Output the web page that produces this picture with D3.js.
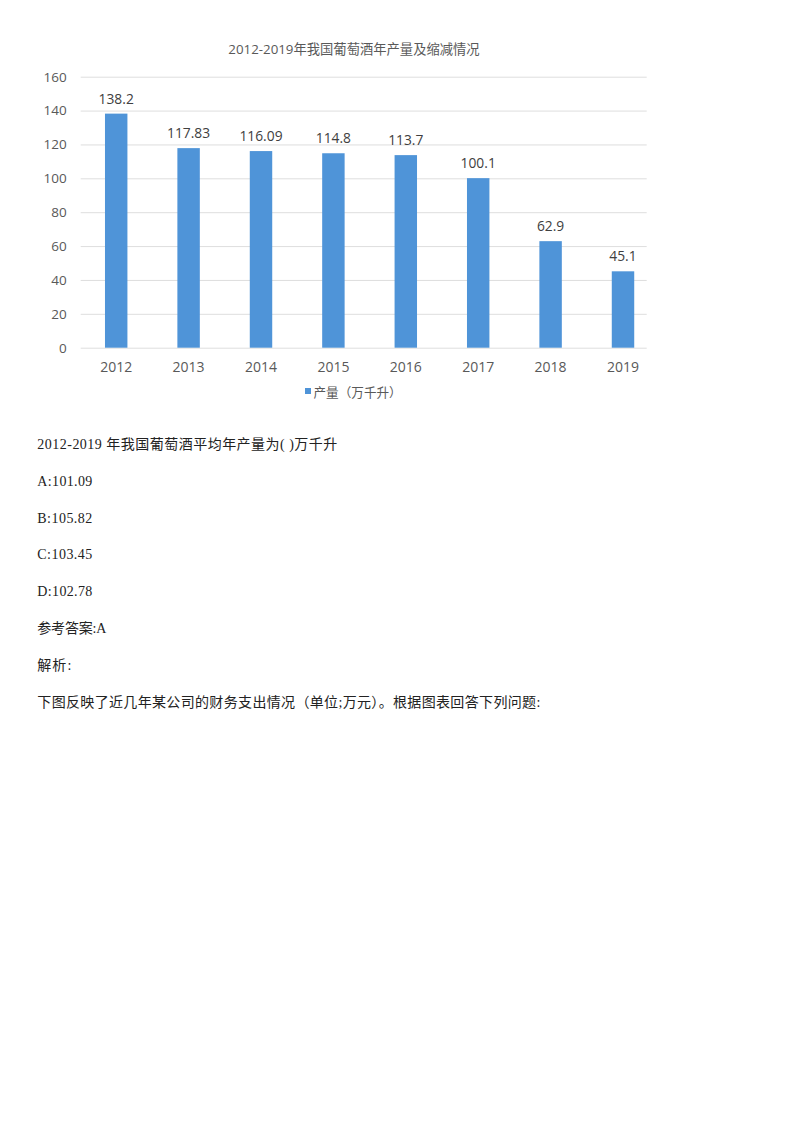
<!DOCTYPE html>
<html><head><meta charset="utf-8">
<script src="https://cdn.jsdelivr.net/npm/d3@7"></script>
<style>
html,body{margin:0;padding:0;background:#fff;}
svg{display:block;}
</style></head>
<body>
<svg id="c" width="800" height="1132"></svg>
<script>
const chartTitle = "2012-2019年我国葡萄酒年产量及缩减情况";
const years = ["2012","2013","2014","2015","2016","2017","2018","2019"];
const production = [138.2, 117.83, 116.09, 114.8, 113.7, 100.1, 62.9, 45.1];
const valueLabels = ["138.2","117.83","116.09","114.8","113.7","100.1","62.9","45.1"];
const yTicks = [0, 20, 40, 60, 80, 100, 120, 140, 160];
const legendLabel = "产量（万千升）";
const bodyLines = [
  "2012-2019 年我国葡萄酒平均年产量为( )万千升",
  "A:101.09",
  "B:105.82",
  "C:103.45",
  "D:102.78",
  "参考答案:A",
  "解析:",
  "下图反映了近几年某公司的财务支出情况（单位;万元）。根据图表回答下列问题:"
];

const svg = d3.select("#c");
const chartFont = "'Open Sans','Noto Sans CJK SC',sans-serif";
const textColor = "#595959";

const x = d3.scaleBand().domain(years).range([80, 659.2]).paddingInner(0.69).paddingOuter(0.345);
const y = d3.scaleLinear().domain([0, 160]).range([347.7, 76.7]);

// title
svg.append("text").attr("x", 354).attr("y", 54).attr("text-anchor", "middle")
  .attr("font-family", chartFont).attr("font-size", 13.3).attr("fill", textColor)
  .text(chartTitle);

// gridlines + y labels via axis
const yAxis = d3.axisLeft(y).tickValues(yTicks).tickSize(-(646.7 - 80.7)).tickPadding(14);
const gy = svg.append("g").attr("transform", "translate(80.7,0)").call(yAxis);
gy.select(".domain").remove();
gy.selectAll(".tick line").attr("stroke", "#dedede").attr("stroke-width", 1);
gy.selectAll(".tick text").attr("font-family", chartFont).attr("font-size", 13.5).attr("fill", textColor);

// x labels via axis
const xAxis = d3.axisBottom(x).tickSize(0).tickPadding(14);
const gx = svg.append("g").attr("transform", "translate(0,347.7)").call(xAxis);
gx.select(".domain").remove();
gx.selectAll(".tick text").attr("font-family", chartFont).attr("font-size", 14).attr("fill", textColor);

// bars
const data = years.map((yr, i) => ({yr, v: production[i], label: valueLabels[i]}));
svg.append("g").selectAll("rect").data(data).join("rect")
  .attr("x", d => x(d.yr)).attr("width", x.bandwidth())
  .attr("y", d => y(d.v)).attr("height", d => y(0) - y(d.v))
  .attr("fill", "#4f94d8");

// value labels
svg.append("g").selectAll("text").data(data).join("text")
  .attr("x", d => x(d.yr) + x.bandwidth() / 2)
  .attr("y", d => y(d.v) - 10)
  .attr("text-anchor", "middle")
  .attr("font-family", chartFont).attr("font-size", 13.8).attr("fill", "#404040")
  .text(d => d.label);

// legend
svg.append("rect").attr("x", 305).attr("y", 388).attr("width", 6).attr("height", 6).attr("fill", "#4f94d8");
svg.append("text").attr("x", 313.5).attr("y", 396.5)
  .attr("font-family", chartFont).attr("font-size", 12.6).attr("fill", textColor)
  .text(legendLabel);

// body text: half-width / full-width cell layout like SimSun
const fs = 14;
const cellWidth = s => Array.from(s).reduce((w, ch) => w + (ch.charCodeAt(0) > 0x2000 ? fs : fs / 2), 0);
svg.append("g").selectAll("text").data(bodyLines).join("text")
  .attr("x", 37.3).attr("y", (d, i) => 449 + i * 36.8)
  .attr("font-family", "'Liberation Serif','Noto Sans CJK SC',serif")
  .attr("font-size", fs).attr("fill", "#222")
  .attr("xml:space", "preserve")
  .attr("textLength", d => cellWidth(d) - 1)
  .attr("lengthAdjust", "spacing")
  .text(d => d);
</script>
</body></html>
